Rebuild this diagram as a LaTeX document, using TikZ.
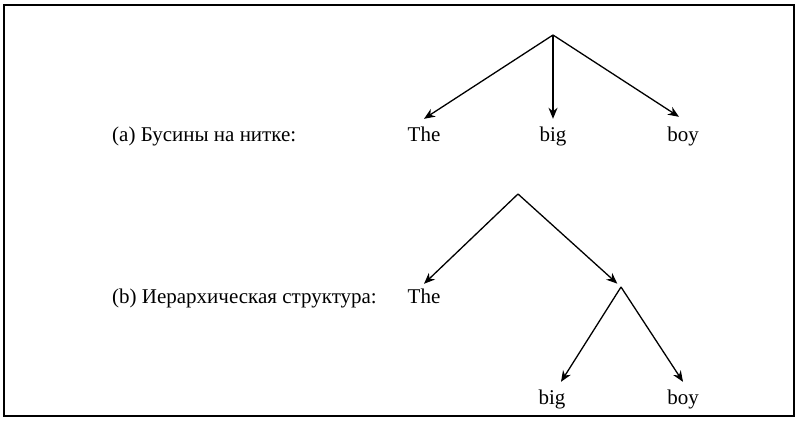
\documentclass[tikz,border=0pt]{standalone}
\usepackage{fontspec}
\setmainfont{Liberation Serif}
\usetikzlibrary{arrows.meta}
\begin{document}
\begin{tikzpicture}[x=1pt,y=-1pt,
  word/.style={font=\fontsize{21}{25}\selectfont, inner xsep=2pt, inner ysep=8pt, text height=14pt, text depth=5pt, anchor=base},
  caption/.style={font=\fontsize{21}{25}\selectfont, inner sep=0pt, anchor=base west},
  arr/.style={line width=1.3pt, -{Stealth[length=11pt,width=9pt,inset=3.5pt]}},
  seg/.style={line width=1.3pt}]
\useasboundingbox (0,0) rectangle (800,423);
\draw[line width=2pt] (4,5) rectangle (794,416);
% (a)
\node[caption] (capa) at (112,141) {(a) Бусины на нитке:};
\coordinate (ra) at (553,35);
\node[word] (a1) at (424,141) {The};
\node[word] (a2) at (553,141) {big};
\node[word] (a3) at (683,141) {boy};
\draw[arr] (ra) -- (a1.north);
\draw[arr] (ra) -- (a2.north);
\draw[arr] (ra) -- ([xshift=-4pt,yshift=2pt]a3.north);
% (b)
\node[caption] (capb) at (112,303) {(b) Иерархическая структура:};
\coordinate (rb) at (518,194);
\coordinate (mb) at (621,287);
\node[word] (b1) at (424,303) {The};
\node[word] (b2) at (552,404) {big};
\node[word] (b3) at (683,404) {boy};
\draw[arr] (rb) -- ([yshift=-3pt]b1.north);
\draw[arr, shorten >=5pt] (rb) -- (mb);
\draw[arr] (mb) -- ([xshift=9pt]b2.north);
\draw[arr] (mb) -- (b3.north);
\end{tikzpicture}
\end{document}
